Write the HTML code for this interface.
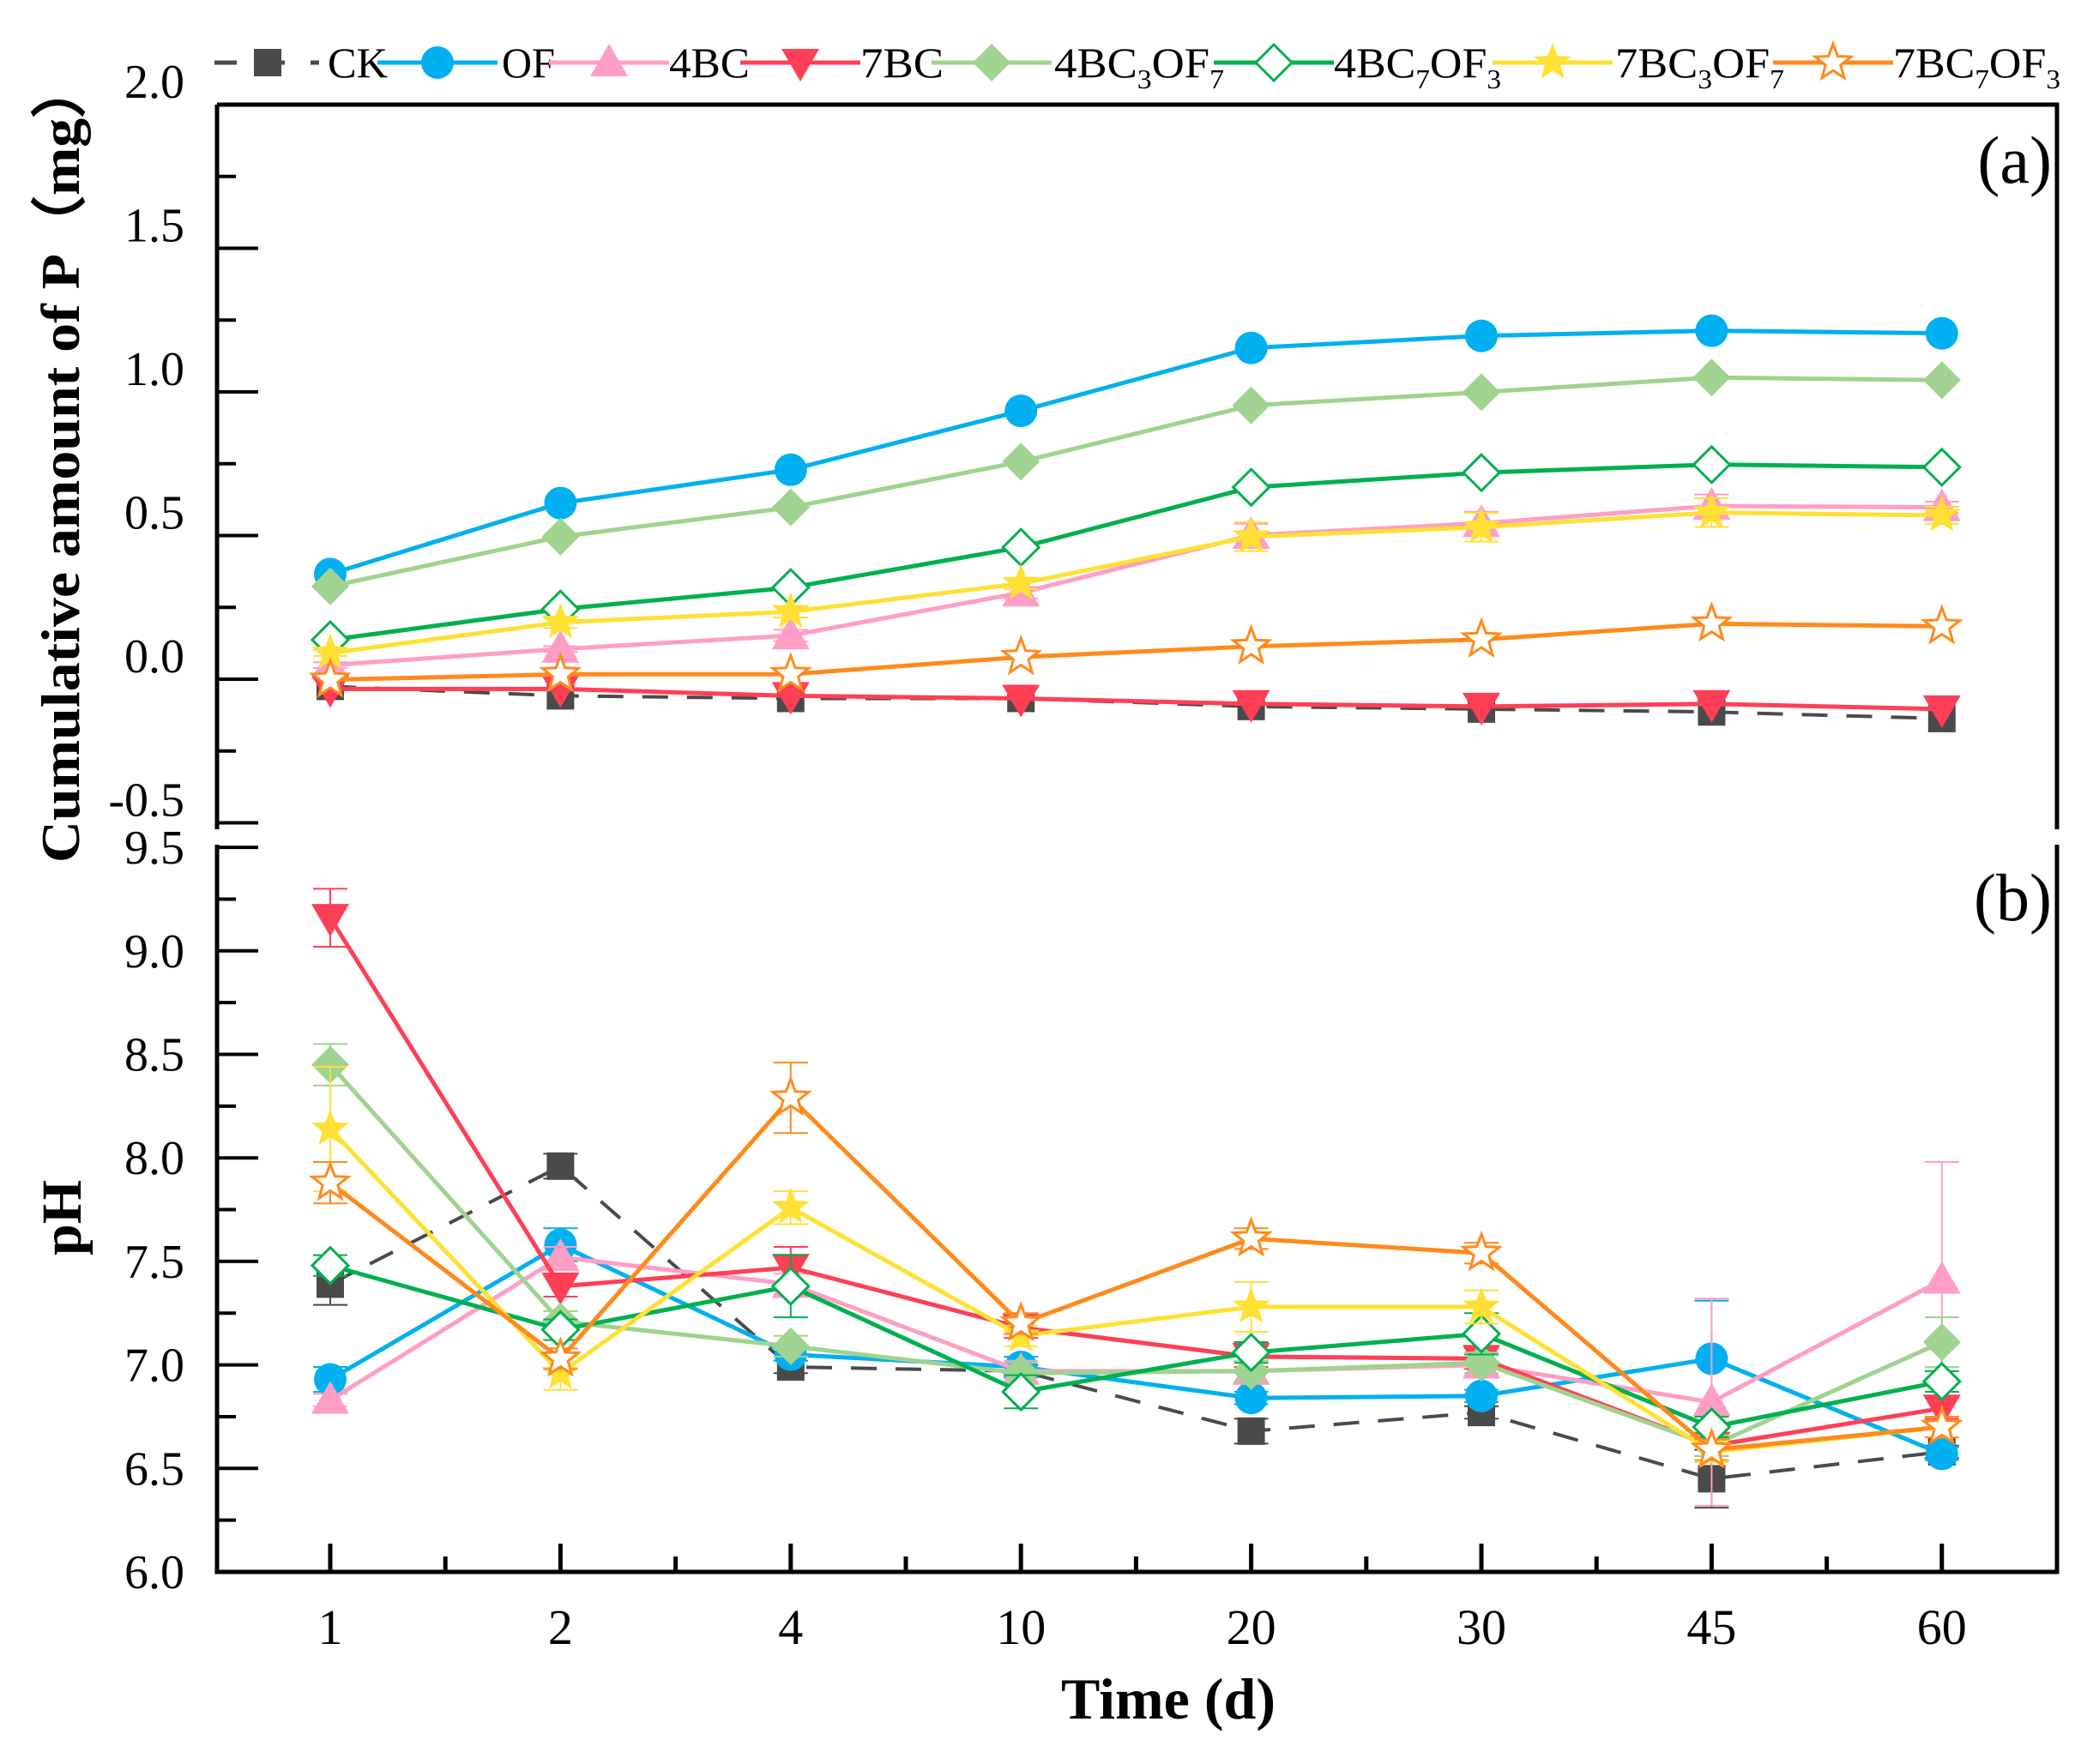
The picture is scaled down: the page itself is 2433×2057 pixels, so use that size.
<!DOCTYPE html>
<html><head><meta charset="utf-8"><style>
html,body{margin:0;padding:0;background:#fff;}
svg{display:block;font-family:"Liberation Serif",serif;}
</style></head><body>
<svg id="chart" width="2433" height="2057" viewBox="0 0 2433 2057" xmlns="http://www.w3.org/2000/svg">
<rect width="2433" height="2057" fill="#fff"/>
<g id="axes"></g>
<g id="marks"></g>
<g id="legend"></g>
<text x="0" y="0" transform="translate(92,538) rotate(-90)" text-anchor="middle" font-size="64" font-weight="bold" textLength="936" lengthAdjust="spacingAndGlyphs">Cumulative amount of P（mg）</text>
<text x="0" y="0" transform="translate(94,1420) rotate(-90)" text-anchor="middle" font-size="66" font-weight="bold">pH</text>
<text x="1362" y="2004" text-anchor="middle" font-size="68" font-weight="bold">Time (d)</text>
<text x="2392" y="213" text-anchor="end" font-size="78">(a)</text>
<text x="2392" y="1073" text-anchor="end" font-size="78">(b)</text>
</svg>
<script>
const categories = ["1","2","4","10","20","30","45","60"];
const seriesNames = ["CK","OF","4BC","7BC","4BC3OF7","4BC7OF3","7BC3OF7","7BC7OF3"];
const pCK = [-0.025,-0.058,-0.067,-0.067,-0.095,-0.104,-0.114,-0.137];
const pOF = [0.366,0.613,0.729,0.934,1.153,1.195,1.213,1.204];
const p4BC = [0.049,0.105,0.152,0.301,0.501,0.543,0.603,0.598];
const p7BC = [-0.034,-0.034,-0.058,-0.067,-0.086,-0.095,-0.086,-0.104];
const p4BC3OF7 = [0.323,0.496,0.598,0.757,0.953,0.999,1.050,1.041];
const p4BC7OF3 = [0.137,0.244,0.319,0.459,0.668,0.719,0.747,0.738];
const p7BC3OF7 = [0.091,0.198,0.235,0.333,0.496,0.529,0.580,0.570];
const p7BC7OF3 = [-0.002,0.017,0.017,0.077,0.114,0.138,0.193,0.184];
const pErr4BC = [0.01,0.01,0.02,0.02,0.04,0.04,0.04,0.02];
const pErr7BC3OF7 = [0.01,0.02,0.02,0.02,0.05,0.05,0.05,0.03];
const phCK = [7.39,7.96,6.99,6.97,6.68,6.77,6.45,6.58];
const phOF = [6.93,7.58,7.05,6.99,6.84,6.85,7.03,6.57];
const ph4BC = [6.83,7.52,7.39,6.97,6.97,7.00,6.82,7.41];
const ph7BC = [9.16,7.38,7.47,7.18,7.04,7.03,6.61,6.79];
const ph4BC3OF7 = [8.45,7.21,7.09,6.96,6.97,7.01,6.61,7.11];
const ph4BC7OF3 = [7.48,7.17,7.38,6.87,7.06,7.15,6.70,6.92];
const ph7BC3OF7 = [8.14,6.96,7.76,7.14,7.28,7.28,6.58,6.70];
const ph7BC7OF3 = [7.88,7.03,8.29,7.20,7.61,7.54,6.59,6.70];
const phErrCK = [0.10,0.06,0.03,0.03,0.06,0.03,0.14,0.03];
const phErrOF = [0.06,0.08,0.03,0.05,0.03,0.03,0.28,0.03];
const phErr4BC = [0.03,0.05,0.05,0.05,0.05,0.05,0.50,0.57];
const phErr7BC = [0.14,0.05,0.10,0.05,0.05,0.05,0.05,0.05];
const phErr4BC3OF7 = [0.10,0.05,0.05,0.05,0.05,0.05,0.05,0.12];
const phErr4BC7OF3 = [0.05,0.05,0.15,0.08,0.05,0.10,0.05,0.05];
const phErr7BC3OF7 = [0.30,0.08,0.08,0.05,0.12,0.08,0.05,0.05];
const phErr7BC7OF3 = [0.10,0.05,0.17,0.05,0.05,0.05,0.05,0.05];
const pTicks = ["2.0","1.5","1.0","0.5","0.0","-0.5"];
const phTicks = ["9.5","9.0","8.5","8.0","7.5","7.0","6.5","6.0"];

const NS="http://www.w3.org/2000/svg";
const L=253,R=2398;
const x=i=>385+i*268.4;
const yP=v=>792-v*335;
const yH=v=>1833-(v-6)*241.4;
function mk(tag,attrs,parent){const e=document.createElementNS(NS,tag);for(const k in attrs)e.setAttribute(k,attrs[k]);parent.appendChild(e);return e;}
const axes=document.getElementById('axes'),marks=document.getElementById('marks'),legend=document.getElementById('legend');

let e;
e=mk('path',{d:`M${L},122 H${R} V967 M${L},122 V967`,fill:'none',stroke:'#000','stroke-width':5},axes);

e=mk('path',{d:`M${R},985 V1833 H${L} V985`,fill:'none',stroke:'#000','stroke-width':5},axes);

for(let v=-0.5;v<=2.0001;v+=0.25){const yy=yP(v);const major=Math.abs(v*2-Math.round(v*2))<1e-6;
 e=mk('line',{x1:L,x2:L+(major?48:22),y1:yy,y2:yy,stroke:'#000','stroke-width':4},axes);
 }
pTicks.forEach(t=>{const v=parseFloat(t);
 e=mk('text',{x:215,y:yP(v)-8,'text-anchor':'end','font-size':56},axes);e.textContent=t;
 });
for(let v=6;v<=9.5001;v+=0.25){const yy=yH(v);const major=Math.abs(v*2-Math.round(v*2))<1e-6;
 e=mk('line',{x1:L,x2:L+(major?48:22),y1:yy,y2:yy,stroke:'#000','stroke-width':4},axes);
 }
phTicks.forEach(t=>{const v=parseFloat(t);
 e=mk('text',{x:215,y:yH(v)+19,'text-anchor':'end','font-size':56},axes);e.textContent=t;
 });
categories.forEach((c,i)=>{
 e=mk('line',{x1:x(i),x2:x(i),y1:1833,y2:1800,stroke:'#000','stroke-width':5},axes);
 
 if(i<categories.length-1){e=mk('line',{x1:x(i)+134.2,x2:x(i)+134.2,y1:1833,y2:1815,stroke:'#000','stroke-width':5},axes);
 }
 e=mk('text',{x:x(i),y:1917,'text-anchor':'middle','font-size':58},axes);e.textContent=c;
 
});

const colors=["#4a4a4a","#00b0f0","#ff9ec4","#ff3f55","#9fd38f","#00b04f","#ffe033","#ff8a1c"];
const shapes=["square","circle","tri","tridown","diamond","diamondo","star","staro"];
function star(cx,cy,r){let p=[];for(let k=0;k<10;k++){const a=-Math.PI/2+k*Math.PI/5;const rr=k%2?r*0.42:r;p.push((cx+rr*Math.cos(a)).toFixed(1)+','+(cy+rr*Math.sin(a)).toFixed(1));}return p.join(' ');}
function marker(s,cx,cy,col,parent,name){let m;const r=19;
 if(s==='square')m=mk('rect',{x:cx-16,y:cy-16,width:32,height:32,fill:col},parent);
 else if(s==='circle')m=mk('circle',{cx,cy,r:r,fill:col},parent);
 else if(s==='tri')m=mk('polygon',{points:`${cx},${cy-22} ${cx+22},${cy+16} ${cx-22},${cy+16}`,fill:col},parent);
 else if(s==='tridown')m=mk('polygon',{points:`${cx},${cy+22} ${cx+22},${cy-16} ${cx-22},${cy-16}`,fill:col},parent);
 else if(s==='diamond')m=mk('polygon',{points:`${cx},${cy-22} ${cx+22},${cy} ${cx},${cy+22} ${cx-22},${cy}`,fill:col},parent);
 else if(s==='diamondo')m=mk('polygon',{points:`${cx},${cy-21} ${cx+21},${cy} ${cx},${cy+21} ${cx-21},${cy}`,fill:'#fff',stroke:col,'stroke-width':3},parent);
 else if(s==='star')m=mk('polygon',{points:star(cx,cy,23),fill:col},parent);
 else m=mk('polygon',{points:star(cx,cy,22),fill:'#fff',stroke:col,'stroke-width':3},parent);
 return m;}

const pData=[pCK,pOF,p4BC,p7BC,p4BC3OF7,p4BC7OF3,p7BC3OF7,p7BC7OF3];
const phData=[phCK,phOF,ph4BC,ph7BC,ph4BC3OF7,ph4BC7OF3,ph7BC3OF7,ph7BC7OF3];
const pErr=[null,null,pErr4BC,null,null,null,pErr7BC3OF7,null];
const phErr=[phErrCK,phErrOF,phErr4BC,phErr7BC,phErr4BC3OF7,phErr4BC7OF3,phErr7BC3OF7,phErr7BC7OF3];
function drawPanel(data,errs,yf,tag){
 data.forEach((vals,s)=>{
  const g=mk('g',{},marks);
  
  
  const err=errs[s];
  if(err){vals.forEach((v,i)=>{const y1=yf(v+err[i]),y2=yf(v-err[i]);
   const eb=mk('path',{d:`M${x(i)},${y1}V${y2}M${x(i)-20},${y1}H${x(i)+20}M${x(i)-20},${y2}H${x(i)+20}`,stroke:colors[s],'stroke-width':2,fill:'none'},g);
   });}
  const d=vals.map((v,i)=>(i?'L':'M')+x(i)+','+yf(v)).join('');
  const ln=mk('path',{d,fill:'none',stroke:colors[s],'stroke-width':s===0?4:5,'stroke-dasharray':s===0?'30 22':'none'},g);
  
  vals.forEach((v,i)=>marker(shapes[s],x(i),yf(v),colors[s],g,'point-'+seriesNames[s].toLowerCase()));
 });
}
drawPanel(pData,pErr,yP,'p');
drawPanel(phData,phErr,yH,'ph');

const legMarkX=[312,510,710,933,1156,1485,1810,2137];
const legTextX=[382,585,780,1003,1229,1555,1883,2207];
const legTextW=[70,62,94,97,198,195,197,195];
const legLabels=[["CK"],["OF"],["4BC"],["7BC"],["4BC","3","OF","7"],["4BC","7","OF","3"],["7BC","3","OF","7"],["7BC","7","OF","3"]];
legMarkX.forEach((mx,s)=>{
 const g=mk('g',{},legend);
 
 
 const x1=s===0?250:mx-70,x2=s===0?372:mx+70;
 mk('line',{x1,x2,y1:73,y2:73,stroke:colors[s],'stroke-width':5,'stroke-dasharray':s===0?'26 30':'none'},g);
 marker(shapes[s],mx,73,colors[s],g,'legend-marker');
 const t=mk('text',{x:legTextX[s],y:90,'font-size':50,textLength:legTextW[s],lengthAdjust:'spacingAndGlyphs'},g);
 legLabels[s].forEach((part,k)=>{const ts=mk('tspan',{},t);ts.textContent=part;
  if(k%2===1){ts.setAttribute('font-size','32');ts.setAttribute('dy','13');}
  else if(k>0){ts.setAttribute('dy','-13');}});
});
</script>
</body></html>
